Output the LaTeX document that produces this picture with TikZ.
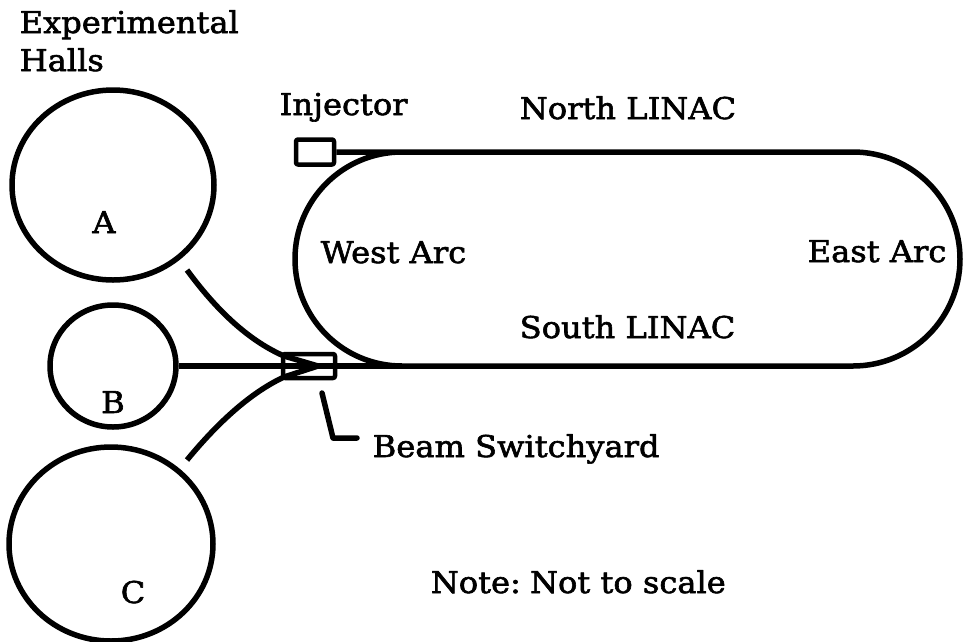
\documentclass[tikz,border=0pt]{standalone}
\usepackage{fontspec}
\setmainfont{DejaVu Serif}[FakeStretch=1.07,FakeBold=2]
\usetikzlibrary{shapes.geometric}
\begin{document}
\begin{tikzpicture}[x=1pt,y=-1pt,line width=5.5pt,line join=round,
  hall/.style={draw,ellipse,inner sep=0pt},
  box/.style={draw,rectangle,rounded corners=2pt,inner sep=0pt,line width=4.5pt},
  lbl/.style={anchor=base west,inner sep=0pt,font=\fontsize{30}{36}\selectfont},
  lblc/.style={anchor=base,inner sep=0pt,font=\fontsize{30}{36}\selectfont}]
\useasboundingbox (0,0) rectangle (964,641);

% experimental halls
\node[hall,minimum width=202pt,minimum height=190pt] (hallA) at (113,185) {};
\node[hall,minimum width=126pt,minimum height=122pt] (hallB) at (113,366) {};
\node[hall,minimum width=204pt,minimum height=194pt] (hallC) at (111,544) {};
\node[lblc] (labA) at (104,233) {A};
\node[lblc] (labB) at (113,413) {B};
\node[lblc] (labC) at (133,603) {C};

% injector and beam switchyard
\node[box,minimum width=38pt,minimum height=25pt] (inj) at (315,152) {};
\node[box,minimum width=52pt,minimum height=24pt] (sw) at (309,366) {};

% racetrack: linacs and recirculation arcs
\coordinate (westTop) at (402,152);
\coordinate (westBot) at (402,366);
\coordinate (eastTop) at (853,152);
\coordinate (eastBot) at (853,366);
\draw (inj.east) -- (eastTop) arc[start angle=-90,end angle=90,radius=107]
      -- (westBot) arc[start angle=90,end angle=270,radius=107];
\draw (sw.east) -- (westBot);

% transport lines to the halls
\coordinate (apex) at (318,366);
\coordinate (aStart) at (187,270);
\coordinate (cStart) at (187,460);
\draw (aStart) .. controls (220,315) and (252,342) .. (284,356) -- (apex);
\draw (cStart) .. controls (220,420) and (252,392) .. (284,377) -- (apex);
\draw (hallB.east) -- (sw.east);
\fill (303,359) -- (322,366) -- (303,373) -- cycle;

% switchyard pointer
\coordinate (ptTip) at (322,393);
\coordinate (ptBend) at (333,438);
\coordinate (ptEnd) at (357,438);
\draw[line cap=round] (ptTip) -- (ptBend) -- (ptEnd);

% labels
\node[lbl] (t1) at (17,33) {Experimental};
\node[lbl] (t2) at (17,71) {Halls};
\node[lbl] (tinj) at (277,115) {Injector};
\node[lbl] (tnorth) at (517,119) {North LINAC};
\node[lbl] (twest) at (318,263) {West Arc};
\node[lbl] (teast) at (805,262) {East Arc};
\node[lbl] (tsouth) at (517,338) {South LINAC};
\node[lbl] (tbeam) at (370,457) {Beam Switchyard};
\node[lbl] (tnote) at (428,593) {Note:\hspace{-0.15em} Not to scale};
\end{tikzpicture}
\end{document}
